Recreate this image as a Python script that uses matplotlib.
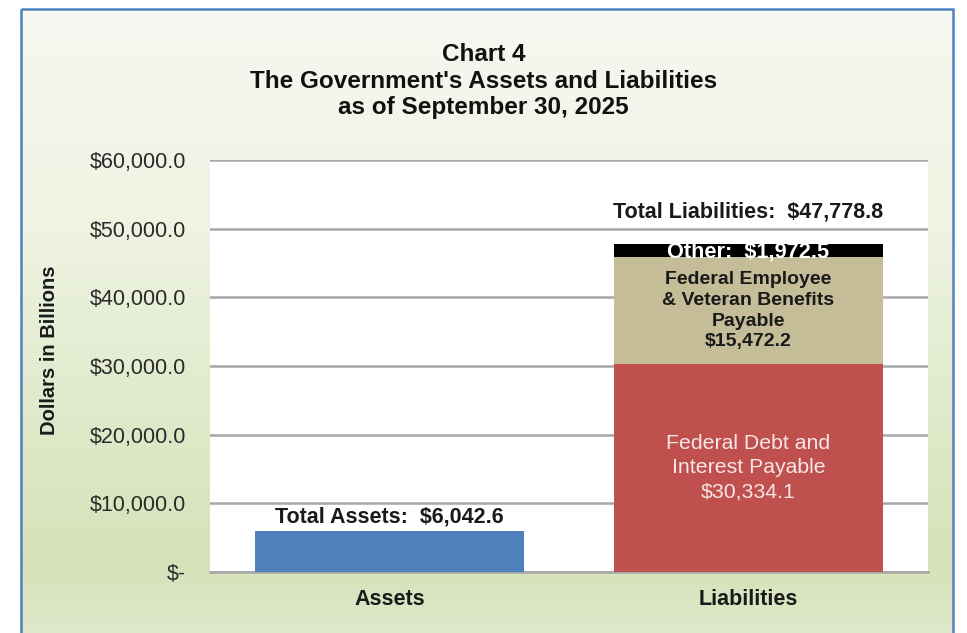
import matplotlib
matplotlib.use("Agg")
import matplotlib.pyplot as plt
import numpy as np
from matplotlib.patches import Rectangle
from matplotlib.colors import LinearSegmentedColormap

plt.rcParams['font.family'] = ['Liberation Sans', 'DejaVu Sans']

categories = ["Assets", "Liabilities"]
assets_total = 6042.6
debt = 30334.1
benefits = 15472.2
other = 1972.5
liab_total = 47778.8
yticks = [0, 10000, 20000, 30000, 40000, 50000, 60000]
ytick_labels = ["$-", "$10,000.0", "$20,000.0", "$30,000.0", "$40,000.0", "$50,000.0", "$60,000.0"]

W, H = 967, 633
fig = plt.figure(figsize=(W / 100, H / 100), dpi=100)
fig.patch.set_facecolor("white")

# background gradient frame
bg = fig.add_axes([0, 0, 1, 1], zorder=0)
bg.set_xlim(0, W)
bg.set_ylim(H, 0)
bg.axis("off")
cmap = LinearSegmentedColormap.from_list("g", [(0, "#f6f8f1"), (0.35, "#eef3e2"), (0.88, "#d5e2b8"), (1.0, "#dfe8cb")])
grad = np.linspace(0, 1, 256).reshape(-1, 1)
bg.imshow(grad, cmap=cmap, aspect="auto", extent=[21, 953, H + 5, 9], zorder=0)
bg.add_patch(Rectangle((21, 9), 932, H, fill=False, edgecolor="#4f81bd", linewidth=1.8, zorder=2))

ax = fig.add_axes([210 / W, (H - 572) / H, (928 - 210) / W, (572 - 160) / H], zorder=1)
ax.set_facecolor("white")
x = np.arange(len(categories))
bw = 0.75

ax.bar(x[0], assets_total, width=bw, color="#4f81bd", zorder=3)
b1 = ax.bar(x[1], debt, width=bw, color="#c0504d", zorder=3)
b2 = ax.bar(x[1], benefits, bottom=debt, width=bw, color="#c4bd97", zorder=3)
b3 = ax.bar(x[1], other, bottom=debt + benefits, width=bw, color="#000000", zorder=3)

ax.set_xlim(-0.5, 1.5)
ax.set_ylim(0, 60000)
ax.set_yticks(yticks)
ax.set_yticklabels(ytick_labels, fontsize=15.5, color="#2a2a2a")
ax.set_xticks(x)
ax.set_xticklabels(categories, fontsize=15.5, fontweight="bold", color="#1a1a1a")
ax.tick_params(axis="both", length=0)
ax.tick_params(axis="y", pad=17)
ax.tick_params(axis="x", pad=12)
ax.yaxis.grid(True, color="#a6a6a6", linewidth=1.8, zorder=1)
ax.set_axisbelow(True)
for s in ["top", "right", "left"]:
    ax.spines[s].set_visible(False)
ax.spines["bottom"].set_color("#a6a6a6")
ax.spines["bottom"].set_linewidth(1.8)

ax.set_ylabel("Dollars in Billions", fontsize=14.5, fontweight="bold", color="#1a1a1a")
ax.yaxis.set_label_coords(-0.21, 0.539)

ax.text(x[0], assets_total + 500, "Total Assets:  $6,042.6", ha="center", va="bottom",
        fontsize=15.5, fontweight="bold", color="#1a1a1a")
ax.text(x[1], liab_total + 3100, "Total Liabilities:  $47,778.8", ha="center", va="bottom",
        fontsize=15.5, fontweight="bold", color="#1a1a1a")
ax.text(x[1], debt / 2, "Federal Debt and\nInterest Payable\n$30,334.1", ha="center", va="center",
        fontsize=15.3, color="#f6e6e5", linespacing=1.36, zorder=4)
ax.text(x[1], debt + benefits / 2, "Federal Employee\n& Veteran Benefits\nPayable\n$15,472.2",
        ha="center", va="center", fontsize=14, fontweight="bold", color="#1a1a1a", linespacing=1.3, zorder=4)
t = ax.text(x[1], debt + benefits + other / 2 - 200, "Other:  $1,972.5", ha="center", va="center",
            fontsize=15.7, fontweight="bold", color="white", zorder=5)
t.set_clip_path(b3.patches[0])

fig.text(0.5, (H - 81) / H, "Chart 4\nThe Government's Assets and Liabilities\nas of September 30, 2025",
         ha="center", va="center", fontsize=17.5, fontweight="bold", color="#111111", linespacing=1.2)

fig.savefig("out.png", dpi=100)
